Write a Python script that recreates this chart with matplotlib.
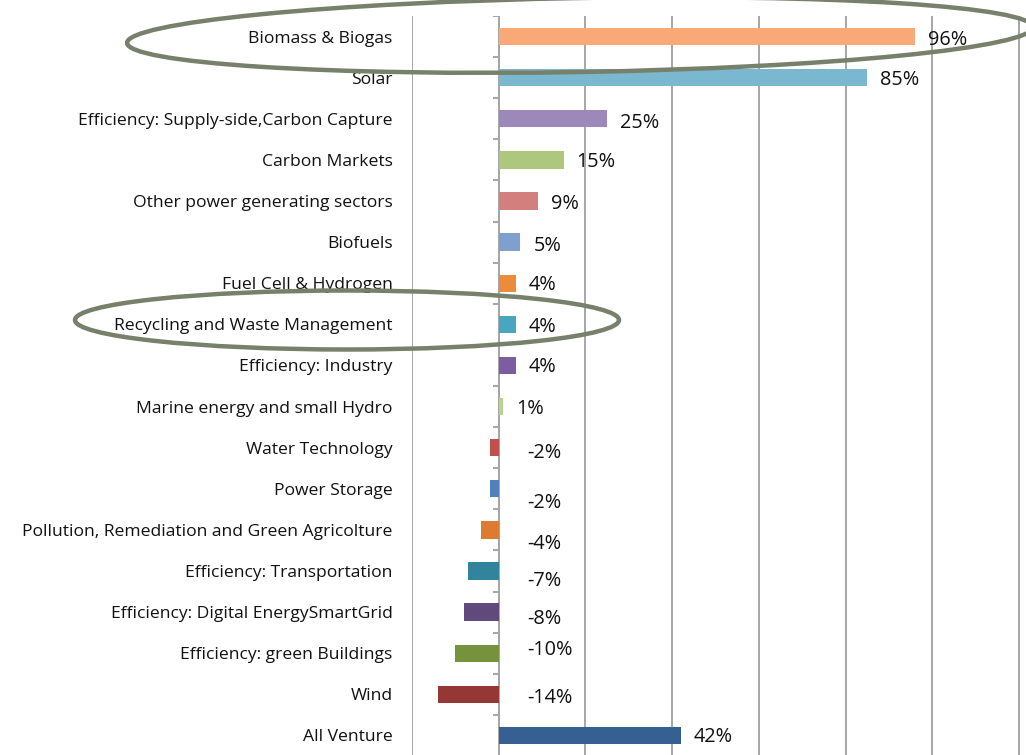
import numpy as np
import matplotlib
matplotlib.use("Agg")
import matplotlib.pyplot as plt
from matplotlib.patches import Ellipse
import matplotlib.transforms as mtransforms

plt.rcParams['font.family'] = ['Open Sans', 'DejaVu Sans']

# data, top row first
categories = [
    "Biomass & Biogas",
    "Solar",
    "Efficiency: Supply-side,Carbon Capture",
    "Carbon Markets",
    "Other power generating sectors",
    "Biofuels",
    "Fuel Cell & Hydrogen",
    "Recycling and Waste Management",
    "Efficiency: Industry",
    "Marine energy and small Hydro",
    "Water Technology",
    "Power Storage",
    "Pollution, Remediation and Green Agricolture",
    "Efficiency: Transportation",
    "Efficiency: Digital EnergySmartGrid",
    "Efficiency: green Buildings",
    "Wind",
    "All Venture",
]
values = [96, 85, 25, 15, 9, 5, 4, 4, 4, 1, -2, -2, -4, -7, -8, -10, -14, 42]
bar_colors = [
    "#F9A977", "#7AB8CF", "#9C88B9", "#ADC77E", "#D27F7E", "#7F9FCD",
    "#EC8B3C", "#48A6BF", "#7C5EA0", "#B9D38E", "#C0504D", "#4F81BD",
    "#DE7B30", "#31849B", "#604A7B", "#76923C", "#953735", "#376092",
]
# vertical nudge of the value labels (pixels, + is down) as excel placed them
label_dy = [3, 2, 4, 2, 3, 4, 2, 3, 2, 2, 5, 14, 14, 10, 7, -3, 4, 2]

n = len(categories)
y = np.arange(n)

fig = plt.figure(figsize=(10.26, 7.55), dpi=100)
ax = fig.add_axes([412 / 1026, -1 / 755, 614 / 1026, 740 / 755])

ax.barh(y, values, height=0.42, color=bar_colors, zorder=3)

ax.set_xlim(-20, -20 + 614 / 4.335)
ax.set_ylim(n - 0.5, -0.5)

ax.set_xticks(np.arange(-20, 121, 20))
ax.tick_params(axis='x', length=0, labelbottom=False)
ax.grid(True, axis='x', color='#A6A6A6', linewidth=1.4, zorder=0)
ax.axvline(0, color='#A6A6A6', linewidth=1.4, zorder=2)
# tick marks between categories on the zero axis
ax.hlines(np.arange(-0.5, n), -1.3, 0, color='#A6A6A6', linewidth=1.4, zorder=2)

ax.set_yticks(y)
ax.set_yticklabels(categories, fontsize=12.6, color='#111111')
ax.tick_params(axis='y', length=0, pad=14)
for s in ax.spines.values():
    s.set_visible(False)

for i, v in enumerate(values):
    off = mtransforms.offset_copy(ax.transData, fig=fig, x=0, y=-label_dy[i], units='dots')
    xpos = v + 3 if v >= 0 else 6.5
    ax.text(xpos, i, f"{v}%", transform=off, ha='left', va='center',
            fontsize=14.3, color='#111111', zorder=4)

# hand-drawn highlight ellipses (figure pixel coordinates)
ring = '#76806A'
fig.add_artist(Ellipse((580, 755 - 35), 906, 74, angle=1.0,
                       transform=None, fill=False, edgecolor=ring, linewidth=3.2, zorder=10))
fig.add_artist(Ellipse((347, 755 - 320), 544, 59, angle=0,
                       transform=None, fill=False, edgecolor=ring, linewidth=3.2, zorder=10))

fig.savefig("out.png", dpi=100)
